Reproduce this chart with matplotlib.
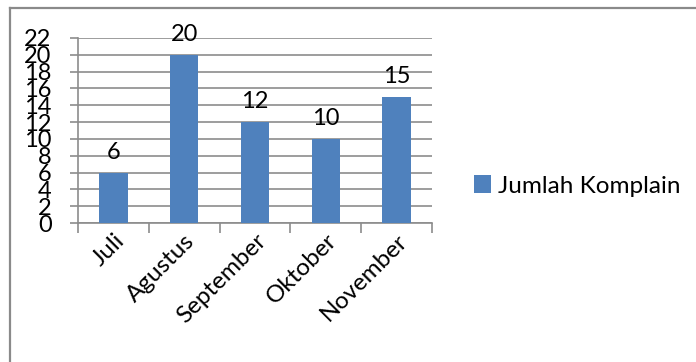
import matplotlib
matplotlib.use("Agg")
import matplotlib.pyplot as plt
from matplotlib.lines import Line2D
from matplotlib.patches import Patch

months = ["Juli", "Agustus", "September", "Oktober", "November"]
complaints = [6, 20, 12, 10, 15]
y_ticks = list(range(0, 23, 2))
series_name = "Jumlah Komplain"

BAR_COLOR = "#4F81BD"
GRID_COLOR = "#8C8C8C"

plt.rcParams["font.family"] = ["Lato", "DejaVu Sans"]

fig = plt.figure(figsize=(6.96, 3.62), dpi=100)
ax = fig.add_axes([78 / 696, 1 - 223 / 362, (432 - 78) / 696, (223 - 38) / 362])

x = list(range(len(months)))
ax.bar(x, complaints, width=0.4, color=BAR_COLOR, zorder=3)

for xi, val in zip(x, complaints):
    ax.annotate(str(val), (xi, val), xytext=(0, 7), textcoords="offset points",
                ha="center", va="bottom", fontsize=17, color="black")

ax.set_xlim(-0.5, len(months) - 0.5)
ax.set_ylim(0, 22)
ax.set_yticks(y_ticks)
ax.set_yticklabels([str(v) for v in y_ticks], fontsize=17)
ax.grid(axis="y", color=GRID_COLOR, linewidth=1.2, zorder=0)

ax.set_xticks(x)
ax.set_xticklabels(months, rotation=45, ha="right", rotation_mode="anchor", fontsize=17.5)
ax.set_xticks([i - 0.5 for i in range(len(months) + 1)], minor=True)
ax.tick_params(axis="x", which="major", length=0, pad=5)
ax.tick_params(axis="x", which="minor", length=7, width=1.2, color=GRID_COLOR)
ax.tick_params(axis="y", length=6, width=1.2, color=GRID_COLOR, pad=13)

for side in ["top", "right"]:
    ax.spines[side].set_visible(False)
for side in ["left", "bottom"]:
    ax.spines[side].set_color(GRID_COLOR)
    ax.spines[side].set_linewidth(1.2)

handle = Patch(facecolor=BAR_COLOR, edgecolor="none")
fig.legend([handle], [series_name], loc="center left",
           bbox_to_anchor=(452 / 696, 1 - 186 / 362), frameon=False,
           fontsize=17.5, handlelength=0.7, handleheight=0.7, handletextpad=0.3)

# outer chart border (only top and left visible)
fig.add_artist(Line2D([10 / 696, 1], [1 - 8 / 362, 1 - 8 / 362], color="#8A8A8A", linewidth=1.6))
fig.add_artist(Line2D([10 / 696, 10 / 696], [0, 1 - 8 / 362], color="#8A8A8A", linewidth=1.6))

fig.savefig("out.png", dpi=100)
